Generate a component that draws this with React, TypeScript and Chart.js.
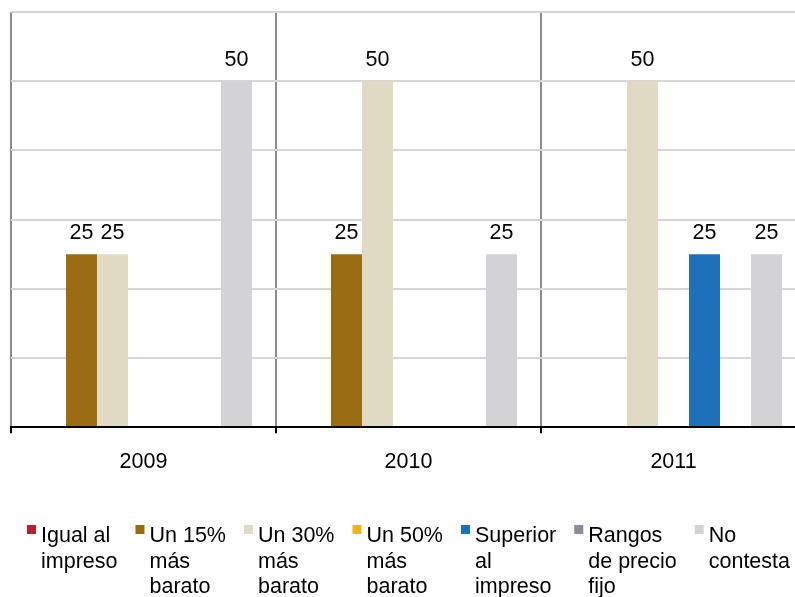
import { useEffect, useRef } from "react";
import { Chart, registerables } from "chart.js";

Chart.register(...registerables);

const FONT = '"Liberation Sans", Arial, Helvetica, sans-serif';
const FONT_SIZE = 21.5;

const categories = ["2009", "2010", "2011"];
const seriesNames = [
  "Igual al impreso",
  "Un 15% más barato",
  "Un 30% más barato",
  "Un 50% más barato",
  "Superior al impreso",
  "Rangos de precio fijo",
  "No contesta",
];
const legendLines = [
  ["Igual al", "impreso"],
  ["Un 15%", "más", "barato"],
  ["Un 30%", "más", "barato"],
  ["Un 50%", "más", "barato"],
  ["Superior", "al", "impreso"],
  ["Rangos", "de precio", "fijo"],
  ["No", "contesta"],
];
const seriesColors = ["#B7202E", "#9B6D12", "#E0DAC4", "#EFB321", "#1F70BB", "#8A8AA0", "#D3D3D5"];

const igualAlImpreso = [0, 0, 0];
const un15 = [25, 25, 0];
const un30 = [25, 50, 50];
const un50 = [0, 0, 0];
const superior = [0, 0, 25];
const rangos = [0, 0, 0];
const noContesta = [50, 25, 25];
const seriesValues = [igualAlImpreso, un15, un30, un50, superior, rangos, noContesta];

const yMin = 0;
const yMax = 60;
const yStep = 10;

const labelsPlugin = {
  id: "valueLabels",
  afterDatasetsDraw(chart: any) {
    const ctx = chart.ctx;
    ctx.save();
    ctx.font = `${FONT_SIZE}px ${FONT}`;
    ctx.fillStyle = "#000";
    ctx.textAlign = "center";
    ctx.textBaseline = "alphabetic";
    chart.data.datasets.forEach((ds: any, di: number) => {
      const meta = chart.getDatasetMeta(di);
      meta.data.forEach((bar: any, i: number) => {
        const v = ds.data[i];
        if (!v) return;
        ctx.fillText(String(v), bar.x, bar.y - 15);
      });
    });
    ctx.restore();
  },
};

const legendPlugin = {
  id: "wrapLegend",
  afterDraw(chart: any) {
    const ctx = chart.ctx;
    ctx.save();
    ctx.font = `${FONT_SIZE}px ${FONT}`;
    ctx.textAlign = "left";
    ctx.textBaseline = "alphabetic";
    let x = 27;
    legendLines.forEach((lines, i) => {
      ctx.fillStyle = seriesColors[i];
      ctx.fillRect(x, 525, 9, 9);
      ctx.fillStyle = "#000";
      let maxW = 0;
      lines.forEach((line, j) => {
        ctx.fillText(line, x + 14, 542 + j * 25.5);
        maxW = Math.max(maxW, ctx.measureText(line).width);
      });
      x += Math.max(108.5, 14 + maxW + 18);
    });
    ctx.restore();
  },
};

export default function App() {
  const ref = useRef<HTMLCanvasElement | null>(null);

  useEffect(() => {
    document.documentElement.style.overflow = "hidden";
    document.body.style.margin = "0";
    document.body.style.overflow = "hidden";
    const canvas = ref.current!;
    const chart = new Chart(canvas, {
      type: "bar",
      data: {
        labels: categories,
        datasets: seriesNames.map((name, i) => ({
          label: name,
          data: seriesValues[i],
          backgroundColor: seriesColors[i],
          borderWidth: 0,
          categoryPercentage: 0.819,
          barPercentage: 1,
        })),
      },
      options: {
        responsive: false,
        animation: false,
        devicePixelRatio: 1,
        layout: { padding: { left: 11, right: 10, top: 12, bottom: 106 } },
        plugins: {
          legend: { display: false },
          tooltip: { enabled: false },
        },
        scales: {
          x: {
            offset: true,
            grid: {
              offset: true,
              display: true,
              color: "#8C8C8C",
              lineWidth: 2,
              drawTicks: true,
              tickLength: 6,
              tickColor: "#000",
              tickWidth: 2,
            },
            border: { display: true, color: "#000", width: 2, z: 1 },
            ticks: {
              color: "#000",
              font: { family: FONT, size: FONT_SIZE },
              padding: 16,
              maxRotation: 0,
            },
          },
          y: {
            min: yMin,
            max: yMax,
            ticks: { display: false, stepSize: yStep },
            grid: {
              drawTicks: false,
              lineWidth: 2,
              color: (c: any) => (c.tick && c.tick.value === 0 ? "rgba(0,0,0,0)" : "#D6D6D6"),
            },
            border: { display: false },
          },
        },
      },
      plugins: [labelsPlugin, legendPlugin],
    });
    return () => chart.destroy();
  }, []);

  return (
    <div style={{ width: 816, height: 597, overflow: "hidden", background: "#fff" }}>
      <canvas ref={ref} width={816} height={597} style={{ display: "block" }} />
    </div>
  );
}
